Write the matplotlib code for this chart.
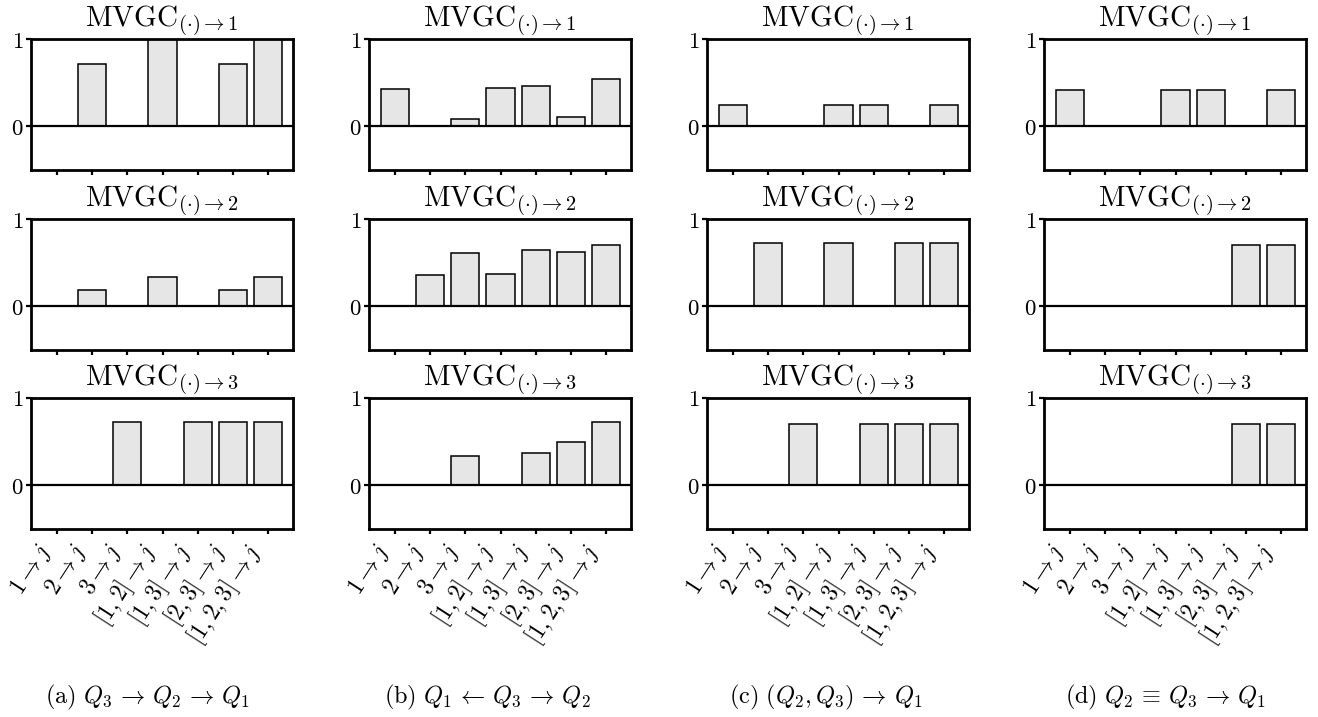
import matplotlib
matplotlib.use("Agg")
import matplotlib.pyplot as plt
import numpy as np

plt.rcParams['mathtext.fontset'] = 'cm'
plt.rcParams['font.family'] = ['DejaVu Serif']

# x categories (same for all panels)
categories = [r"$1\to j$", r"$2\to j$", r"$3\to j$", r"$[1,2]\to j$",
              r"$[1,3]\to j$", r"$[2,3]\to j$", r"$[1,2,3]\to j$"]

# panel (a) Q3 -> Q2 -> Q1
a_to1 = [0.0, 0.71, 0.0, 1.0, 0.0, 0.71, 1.0]
a_to2 = [0.0, 0.19, 0.0, 0.335, 0.0, 0.19, 0.335]
a_to3 = [0.0, 0.0, 0.72, 0.0, 0.72, 0.72, 0.72]
# panel (b) Q1 <- Q3 -> Q2
b_to1 = [0.43, 0.0, 0.084, 0.44, 0.46, 0.11, 0.54]
b_to2 = [0.0, 0.36, 0.615, 0.365, 0.64, 0.627, 0.70]
b_to3 = [0.0, 0.0, 0.34, 0.0, 0.373, 0.50, 0.72]
# panel (c) (Q2,Q3) -> Q1
c_to1 = [0.24, 0.0, 0.0, 0.24, 0.24, 0.0, 0.24]
c_to2 = [0.0, 0.72, 0.0, 0.72, 0.0, 0.72, 0.72]
c_to3 = [0.0, 0.0, 0.70, 0.0, 0.70, 0.70, 0.70]
# panel (d) Q2 = Q3 -> Q1
d_to1 = [0.42, 0.0, 0.0, 0.42, 0.42, 0.0, 0.42]
d_to2 = [0.0, 0.0, 0.0, 0.0, 0.0, 0.70, 0.70]
d_to3 = [0.0, 0.0, 0.0, 0.0, 0.0, 0.70, 0.70]

columns = [[a_to1, a_to2, a_to3], [b_to1, b_to2, b_to3],
           [c_to1, c_to2, c_to3], [d_to1, d_to2, d_to3]]
row_titles = [r"$\mathrm{MVGC}_{(\cdot)\to 1}$", r"$\mathrm{MVGC}_{(\cdot)\to 2}$",
              r"$\mathrm{MVGC}_{(\cdot)\to 3}$"]
captions = [r"$\mathrm{(a)}\ Q_3 \,\to\, Q_2 \,\to\, Q_1$",
            r"$\mathrm{(b)}\ Q_1 \,\leftarrow\, Q_3 \,\to\, Q_2$",
            r"$\mathrm{(c)}\ (Q_2, Q_3) \,\to\, Q_1$",
            r"$\mathrm{(d)}\ Q_2 \,\equiv\, Q_3 \,\to\, Q_1$"]
yticklabels = [r"$0$", r"$1$"]

W, H = 1318, 717
fig = plt.figure(figsize=(W / 100, H / 100), dpi=100)

lefts = [31, 369, 707, 1044]
tops = [39, 219, 398]
aw, ah = 262, 131
x = np.arange(len(categories))

for ci, col in enumerate(columns):
    for ri, vals in enumerate(col):
        l = lefts[ci]
        t = tops[ri]
        ax = fig.add_axes([l / W, 1 - (t + ah) / H, aw / W, ah / H])
        ax.bar(x, vals, width=0.8, color='#e6e6e6', edgecolor='black',
               linewidth=1.1, zorder=2)
        ax.axhline(0, color='black', linewidth=1.6, zorder=3)
        ax.set_xlim(-0.75, 6.72)
        ax.set_ylim(-0.5, 1.0)
        ax.set_yticks([0, 1])
        ax.set_yticklabels(yticklabels, fontsize=16.5)
        ax.set_xticks(x)
        for s in ax.spines.values():
            s.set_linewidth(2.0)
        ax.tick_params(axis='both', direction='out', length=3.5, width=1.6,
                       pad=2)
        ax.tick_params(axis='x', pad=4)
        ax.set_title(row_titles[ri], fontsize=21, pad=2)
        if ri == 2:
            ax.set_xticklabels(categories, rotation=57, ha='right',
                               fontsize=17)
        else:
            ax.set_xticklabels([])
    fig.text((148 + 339 * ci) / W, 1 - 697 / H, captions[ci],
             ha='center', va='center', fontsize=17.5)

fig.savefig("out.png", dpi=100)
